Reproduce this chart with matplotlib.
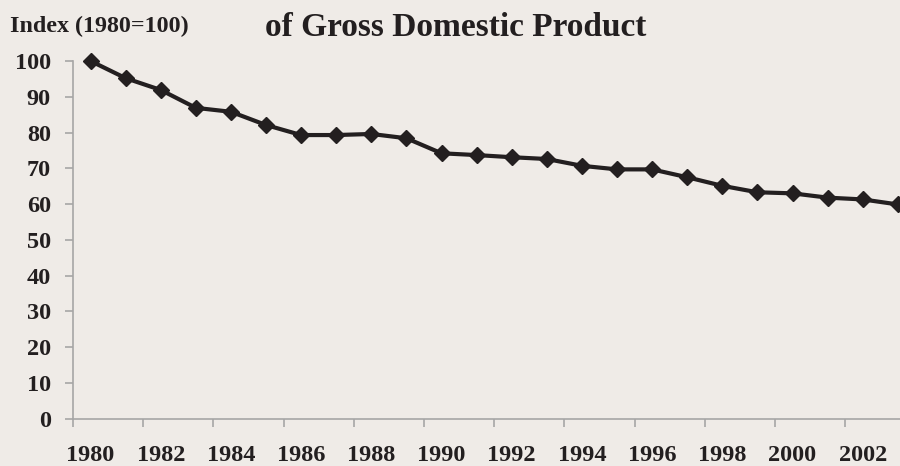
import matplotlib
matplotlib.use("Agg")
import matplotlib.pyplot as plt
import numpy as np

years = list(range(1980, 2004))
index_values = [100.0, 95.2, 91.9, 86.9, 85.8, 82.1, 79.3, 79.3, 79.6, 78.4,
                74.2, 73.7, 73.1, 72.6, 70.7, 69.7, 69.7, 67.5, 65.1, 63.3,
                63.0, 61.8, 61.3, 59.9]
y_ticks = list(range(0, 101, 10))

bg = "#efebe7"
ink = "#231f20"
axis_gray = "#a6a6a6"
font = "Liberation Serif"

fig = plt.figure(figsize=(9, 4.66), dpi=100, facecolor=bg)
# axis runs past the right edge, the chart is cropped there
ax = fig.add_axes([73 / 900, 47.3 / 466, 842.4 / 900, 357.7 / 466], facecolor=bg)

x = np.arange(len(years))
ax.plot(x, index_values, color=ink, lw=3.0, marker="D", ms=8.5,
        mfc=ink, mec=ink, clip_on=False, zorder=3)

ax.set_xlim(-0.5, len(years) - 0.5)
ax.set_ylim(0, 100)

for s in ["top", "right"]:
    ax.spines[s].set_visible(False)
for s in ["left", "bottom"]:
    ax.spines[s].set_color(axis_gray)
    ax.spines[s].set_linewidth(1.2)

# tick marks at category boundaries, labels on every other category
ax.set_xticks(np.arange(-0.5, len(years), 2))
ax.set_xticklabels([])
ax.set_xticks(x[::2], minor=True)
ax.set_xticklabels([str(y) for y in years[::2]], minor=True)
ax.tick_params(axis="x", which="major", length=6, width=1.2, color=axis_gray)
ax.tick_params(axis="x", which="minor", length=0, pad=19)

ax.set_yticks(y_ticks)
ax.tick_params(axis="y", length=6, width=1.2, color=axis_gray, pad=10)

for lab in ax.get_xticklabels(minor=True) + ax.get_yticklabels():
    lab.set_fontfamily(font)
    lab.set_fontweight("bold")
    lab.set_fontsize(17.5)
    lab.set_color(ink)

fig.text(10 / 900, 1 - 32 / 466, "Index (1980=100)", family=font, weight="bold",
         fontsize=17.3, color=ink, ha="left", va="baseline")
fig.text(456 / 900, 1 - 36 / 466, "of Gross Domestic Product", family=font,
         weight="bold", fontsize=24, color=ink, ha="center", va="baseline")

fig.savefig("out.png", dpi=100, facecolor=bg)
